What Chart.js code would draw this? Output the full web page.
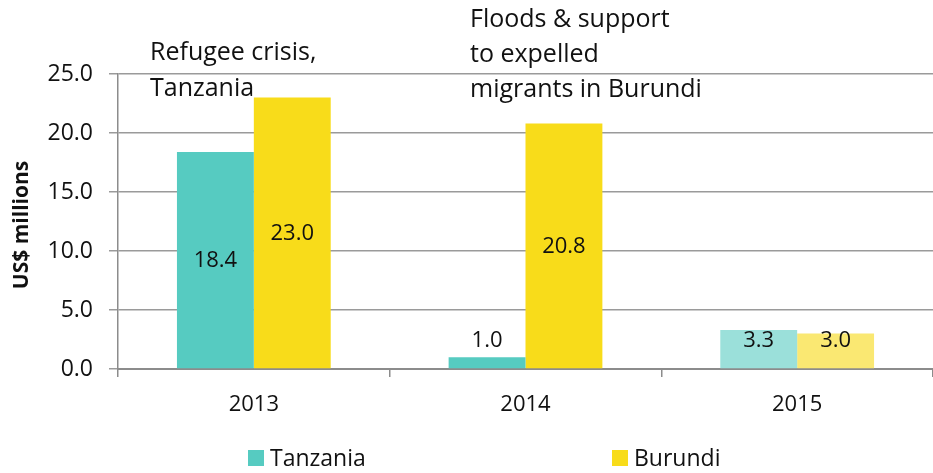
<!DOCTYPE html>
<html>
<head>
<meta charset="utf-8">
<script src="https://cdn.jsdelivr.net/npm/chart.js@4/dist/chart.umd.min.js"></script>
<style>
  html, body { margin: 0; padding: 0; background: #fff; }
  #wrap { width: 933px; height: 473px; position: relative; }
</style>
</head>
<body>
<div id="wrap"><canvas id="myChart"></canvas></div>
<script>
const years = ["2013", "2014", "2015"];
const tanzania = [18.4, 1.0, 3.3];
const burundi = [23.0, 20.8, 3.0];
const yTicks = [0, 5, 10, 15, 20, 25];

const tanzaniaColors = ["#56cbc1", "#56cbc1", "#9be0da"];
const burundiColors = ["#f8dc1a", "#f8dc1a", "#fae872"];

const font = "'Open Sans', sans-serif";

const notes = [
  { x: 150, y: 53, text: "Refugee crisis," },
  { x: 150, y: 89, text: "Tanzania" },
  { x: 470, y: 20, text: "Floods & support" },
  { x: 470, y: 55, text: "to expelled" },
  { x: 470, y: 90, text: "migrants in Burundi" },
];

const extras = {
  id: "extras",
  afterDatasetsDraw(chart) {
    const ctx = chart.ctx;
    const base = chart.scales.y.getPixelForValue(0);
    ctx.save();
    ctx.fillStyle = "#111";
    ctx.font = "22px " + font;
    ctx.textAlign = "center";
    ctx.textBaseline = "middle";
    chart.data.datasets.forEach((ds, i) => {
      chart.getDatasetMeta(i).data.forEach((bar, j) => {
        let y = Math.min((bar.y + base) / 2, base - 28);
        ctx.fillText(ds.data[j].toFixed(1), bar.x, y);
      });
    });

    // notes
    ctx.textAlign = "left";
    ctx.font = "25px " + font;
    notes.forEach((n) => ctx.fillText(n.text, n.x, n.y));

    // legend
    const items = [
      { x: 248, label: "Tanzania", color: tanzaniaColors[0] },
      { x: 612, label: "Burundi", color: burundiColors[0] },
    ];
    ctx.font = "23px " + font;
    items.forEach((it) => {
      ctx.fillStyle = it.color;
      ctx.fillRect(it.x, 450, 16, 16);
      ctx.fillStyle = "#111";
      ctx.fillText(it.label, it.x + 22, 459);
    });

    // y title
    ctx.translate(22, 225);
    ctx.rotate(-Math.PI / 2);
    ctx.textAlign = "center";
    ctx.font = "bold 21px " + font;
    ctx.fillText("US$ millions", 0, 0);
    ctx.restore();
  },
};

new Chart(document.getElementById("myChart"), {
  type: "bar",
  data: {
    labels: years,
    datasets: [
      {
        label: "Tanzania",
        data: tanzania,
        backgroundColor: tanzaniaColors,
        categoryPercentage: 0.566,
        barPercentage: 1.0,
      },
      {
        label: "Burundi",
        data: burundi,
        backgroundColor: burundiColors,
        categoryPercentage: 0.566,
        barPercentage: 1.0,
      },
    ],
  },
  options: {
    responsive: true,
    maintainAspectRatio: false,
    animation: false,
    layout: { padding: { top: 74, right: 0, left: 0, bottom: 0 } },
    plugins: {
      legend: { display: false },
      tooltip: { enabled: false },
    },
    scales: {
      x: {
        grid: {
          offset: true,
          drawOnChartArea: false,
          color: "#8c8c8c",
          lineWidth: 1.5,
          tickLength: 8,
        },
        border: { color: "#8c8c8c", width: 2 },
        ticks: {
          color: "#111",
          font: { family: font, size: 22 },
          padding: 15,
        },
        afterFit(scale) {
          scale.height = 104;
        },
      },
      y: {
        min: 0,
        max: 25,
        afterBuildTicks(scale) {
          scale.ticks = yTicks.map((v) => ({ value: v }));
        },
        grid: {
          color: "#9a9a9a",
          lineWidth: 1.5,
          tickLength: 9,
        },
        border: { color: "#8c8c8c", width: 1.5 },
        ticks: {
          color: "#111",
          font: { family: font, size: 23 },
          padding: 16,
          callback: (v) => v.toFixed(1),
        },
        afterFit(scale) {
          scale.width = 118;
        },
      },
    },
  },
  plugins: [extras],
});
</script>
</body>
</html>
